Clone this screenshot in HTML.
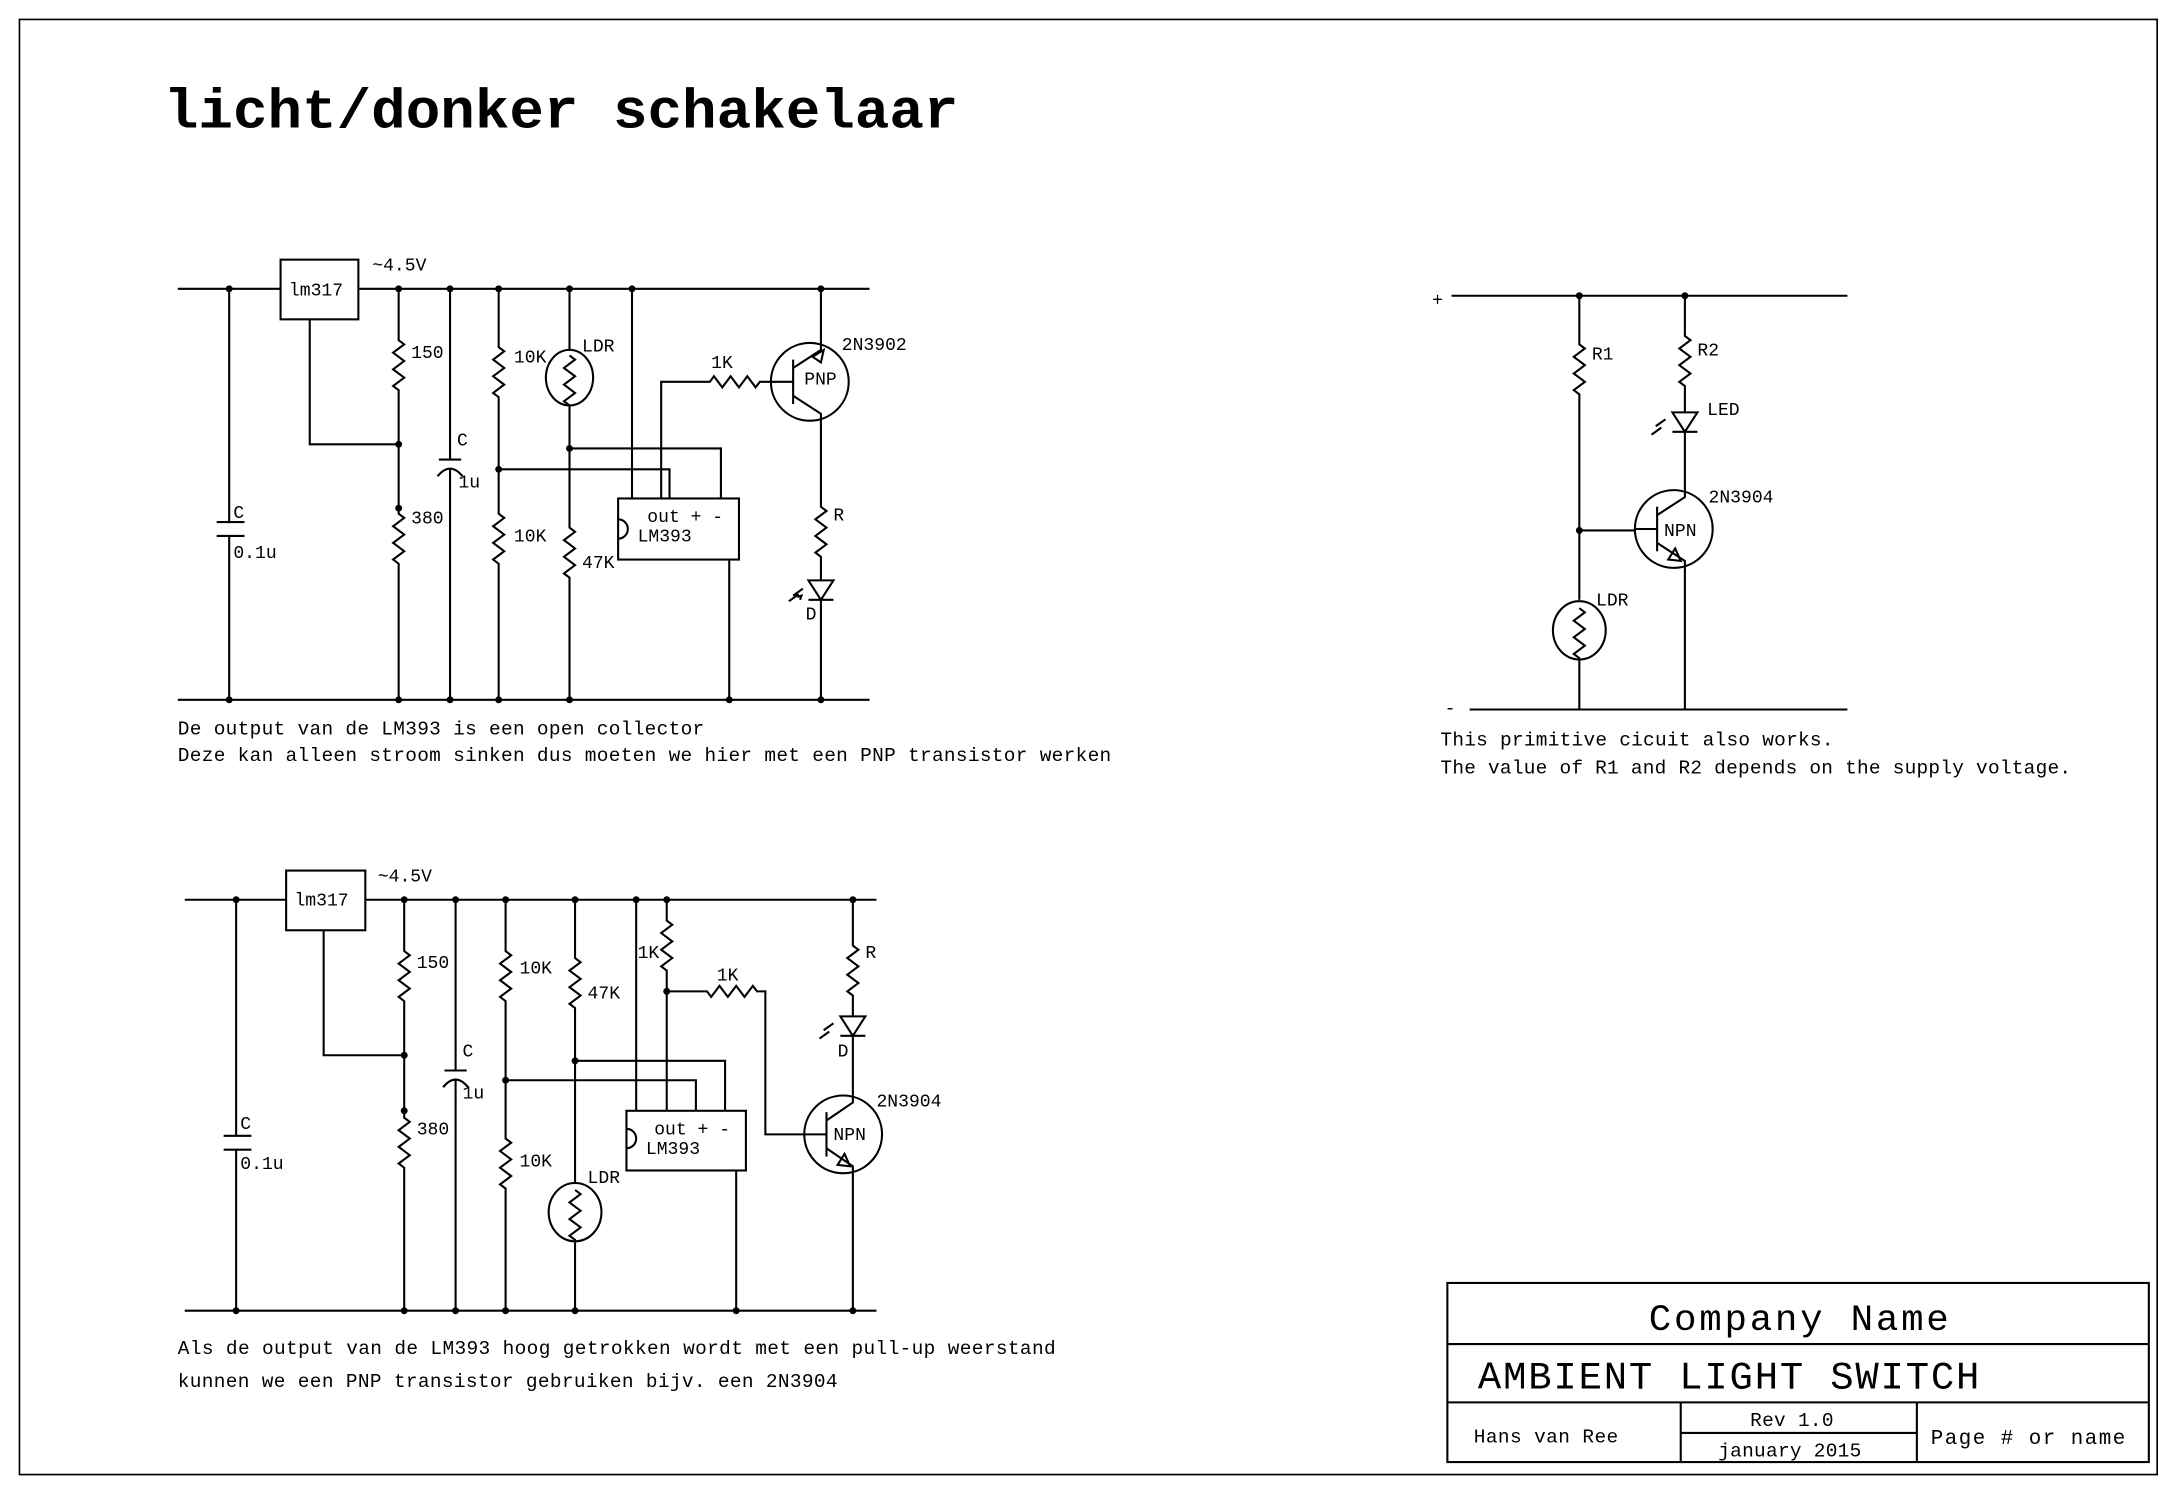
<!DOCTYPE html>
<html><head><meta charset="utf-8"><style>
html,body{margin:0;padding:0;background:#fff}
svg{display:block}
text{font-family:"Liberation Mono",monospace;fill:#000}
</style></head><body>
<svg width="2178" height="1494" viewBox="0 0 1568 1076" preserveAspectRatio="none" xmlns="http://www.w3.org/2000/svg">
<g fill="none" stroke="#000" stroke-width="1.5">
<rect x="14" y="14" width="1539" height="1048" stroke-width="1.2"/>

<!-- TOP CIRCUIT -->
<path d="M128 208H202M258 208H626M128 504H626"/>
<rect x="202" y="187" width="56" height="43"/>
<path d="M165 208V376M156 376H176M156 386H176M165 386V504"/>
<path d="M223 230V320H287"/>
<path d="M287 208V245l4 3l-8 6l8 6l-8 6l8 6l-8 6l4 3V370l4 3l-8 6l8 6l-8 6l8 6l-8 6l4 3V504"/>
<path d="M324 208V331M316 331H332M315 343Q324 332 333 343M324 337V504"/>
<path d="M359 208V250l4 3l-8 6l8 6l-8 6l8 6l-8 6l4 3V370l4 3l-8 6l8 6l-8 6l8 6l-8 6l4 3V504"/>
<path d="M359 338H482V359"/>
<path d="M410 208V252"/>
<ellipse cx="410" cy="272" rx="17" ry="20"/>
<path d="M410 256l4 3l-8 6l8 6l-8 6l8 6l-8 6l4 3V380l4 3l-8 6l8 6l-8 6l8 6l-8 6l4 3V504"/>
<path d="M410 323H519V359M455 208V359"/>
<rect x="445" y="359" width="87" height="44"/>
<path d="M445 374A7 7 0 0 1 445 388"/>
<path d="M476 359V275H511l3 -4l6 8l6 -8l6 8l6 -8l6 8l3 -4H555"/>
<path d="M525 403V504"/>
<circle cx="583" cy="275" r="28"/>
<path d="M571 259V291M555 275H571M591 208V252L571 265M571 285L591 298V365l4 3l-8 6l8 6l-8 6l8 6l-8 6l4 3V418"/>
<path d="M585 257l8 -5l-2 9z"/>
<path d="M582 418H600L591 432ZM582 432H600M591 432V504"/>
<path d="M578 424l-7 5M574 430l3 -1l-1 3M575 428l-7 5"/>

<!-- RIGHT CIRCUIT -->
<path d="M1045 213H1330M1058 511H1330"/>
<path d="M1137 213V248l4 3l-8 6l8 6l-8 6l8 6l-8 6l4 3V432"/>
<ellipse cx="1137" cy="454" rx="19" ry="21"/>
<path d="M1137 438l4 3l-8 6l8 6l-8 6l8 6l-8 6l4 3V511"/>
<path d="M1137 382H1177"/>
<path d="M1213 213V242l4 3l-8 6l8 6l-8 6l8 6l-8 6l4 3V297"/>
<path d="M1204 297H1222L1213 311ZM1204 311H1222M1213 311V353"/>
<path d="M1199 302l-7 5M1196 308l-7 5"/>
<circle cx="1205" cy="381" r="28"/>
<path d="M1193 365V397M1177 381H1193M1193 371L1213 358V353M1193 391L1213 404V511"/>
<path d="M1201 403L1206 395L1210 404Z"/>

<!-- BOTTOM CIRCUIT -->
<path d="M133 648H206M263 648H631M133 944H631"/>
<rect x="206" y="627" width="57" height="43"/>
<path d="M170 648V818M161 818H181M161 828H181M170 828V944"/>
<path d="M233 670V760H291"/>
<path d="M291 648V685l4 3l-8 6l8 6l-8 6l8 6l-8 6l4 3V805l4 3l-8 6l8 6l-8 6l8 6l-8 6l4 3V944"/>
<path d="M328 648V771M320 771H336M319 783Q328 772 337 783M328 777V944"/>
<path d="M364 648V685l4 3l-8 6l8 6l-8 6l8 6l-8 6l4 3V820l4 3l-8 6l8 6l-8 6l8 6l-8 6l4 3V944"/>
<path d="M364 778H501V800"/>
<path d="M414 648V690l4 3l-8 6l8 6l-8 6l8 6l-8 6l4 3V852"/>
<ellipse cx="414" cy="873" rx="19" ry="21"/>
<path d="M414 857l4 3l-8 6l8 6l-8 6l8 6l-8 6l4 3V944"/>
<path d="M414 764H522V800M458 648V800"/>
<path d="M480 648V663l4 3l-8 6l8 6l-8 6l8 6l-8 6l4 3V800"/>
<path d="M480 714H509l3 4l6 -8l6 8l6 -8l6 8l6 -8l3 4H551V817H579"/>
<rect x="451" y="800" width="86" height="43"/>
<path d="M451 813A7 7 0 0 1 451 827"/>
<path d="M530 843V944"/>
<path d="M614 648V681l4 3l-8 6l8 6l-8 6l8 6l-8 6l4 3V732"/>
<path d="M605 732H623L614 746ZM605 746H623M614 746V790"/>
<path d="M600 737l-7 5M597 743l-7 5"/>
<circle cx="607" cy="817" r="28"/>
<path d="M595 801V833M579 817H595M595 807L614 794V790M595 827L614 840V944"/>
<path d="M603 839L608 831L612 840Z"/>

<!-- title block -->
<rect x="1042" y="924" width="505" height="129"/>
<path d="M1042 968H1547M1042 1010H1547M1210 1010V1053M1380 1010V1053M1210 1032H1380"/>
</g>

<g fill="#000">
<circle cx="165" cy="208" r="2.5"/><circle cx="287" cy="208" r="2.5"/><circle cx="324" cy="208" r="2.5"/><circle cx="359" cy="208" r="2.5"/><circle cx="410" cy="208" r="2.5"/><circle cx="455" cy="208" r="2.5"/><circle cx="591" cy="208" r="2.5"/>
<circle cx="165" cy="504" r="2.5"/><circle cx="287" cy="504" r="2.5"/><circle cx="324" cy="504" r="2.5"/><circle cx="359" cy="504" r="2.5"/><circle cx="410" cy="504" r="2.5"/><circle cx="525" cy="504" r="2.5"/><circle cx="591" cy="504" r="2.5"/>
<circle cx="287" cy="320" r="2.5"/><circle cx="287" cy="366" r="2.5"/><circle cx="359" cy="338" r="2.5"/><circle cx="410" cy="323" r="2.5"/>
<circle cx="1137" cy="213" r="2.5"/><circle cx="1213" cy="213" r="2.5"/><circle cx="1137" cy="382" r="2.5"/>
<circle cx="170" cy="648" r="2.5"/><circle cx="291" cy="648" r="2.5"/><circle cx="328" cy="648" r="2.5"/><circle cx="364" cy="648" r="2.5"/><circle cx="414" cy="648" r="2.5"/><circle cx="458" cy="648" r="2.5"/><circle cx="480" cy="648" r="2.5"/><circle cx="614" cy="648" r="2.5"/>
<circle cx="170" cy="944" r="2.5"/><circle cx="291" cy="944" r="2.5"/><circle cx="328" cy="944" r="2.5"/><circle cx="364" cy="944" r="2.5"/><circle cx="414" cy="944" r="2.5"/><circle cx="530" cy="944" r="2.5"/><circle cx="614" cy="944" r="2.5"/>
<circle cx="291" cy="760" r="2.5"/><circle cx="291" cy="800" r="2.5"/><circle cx="364" cy="778" r="2.5"/><circle cx="414" cy="764" r="2.5"/><circle cx="480" cy="714" r="2.5"/>
</g>

<text x="118" y="92" font-size="40" font-weight="bold" textLength="572" lengthAdjust="spacingAndGlyphs">licht/donker schakelaar</text>

<g font-size="13">
<text x="208" y="213">lm317</text>
<text x="268" y="195">~4.5V</text>
<text x="168" y="373">C</text><text x="168" y="402">0.1u</text>
<text x="296" y="258">150</text><text x="296" y="377">380</text>
<text x="329" y="321">C</text><text x="330" y="351">1u</text>
<text x="370" y="261">10K</text><text x="370" y="390">10K</text>
<text x="419" y="253">LDR</text><text x="419" y="409">47K</text>
<text x="466" y="376">out + -</text><text x="459" y="390">LM393</text>
<text x="512" y="265">1K</text>
<text x="606" y="252">2N3902</text><text x="579" y="277">PNP</text>
<text x="600" y="375">R</text><text x="580" y="446">D</text>

<text x="1031" y="220">+</text><text x="1040" y="514">-</text>
<text x="1146" y="259">R1</text><text x="1222" y="256">R2</text>
<text x="1229" y="299">LED</text><text x="1230" y="362">2N3904</text>
<text x="1198" y="386">NPN</text><text x="1149" y="436">LDR</text>

<text x="212" y="652">lm317</text>
<text x="272" y="635">~4.5V</text>
<text x="173" y="813">C</text><text x="173" y="842">0.1u</text>
<text x="300" y="697">150</text><text x="300" y="817">380</text>
<text x="333" y="761">C</text><text x="333" y="791">1u</text>
<text x="374" y="701">10K</text><text x="374" y="840">10K</text>
<text x="423" y="719">47K</text><text x="423" y="852">LDR</text>
<text x="459" y="690">1K</text><text x="516" y="706">1K</text>
<text x="471" y="817">out + -</text><text x="465" y="831">LM393</text>
<text x="623" y="690">R</text><text x="603" y="761">D</text>
<text x="631" y="797">2N3904</text><text x="600" y="821">NPN</text>
</g>

<g font-size="14">
<text x="128" y="529" textLength="379" lengthAdjust="spacing">De output van de LM393 is een open collector</text>
<text x="128" y="548" textLength="672" lengthAdjust="spacing">Deze kan alleen stroom sinken dus moeten we hier met een PNP transistor werken</text>
<text x="1037" y="537" textLength="283" lengthAdjust="spacing">This primitive cicuit also works.</text>
<text x="1037" y="557" textLength="454" lengthAdjust="spacing">The value of R1 and R2 depends on the supply voltage.</text>
<text x="128" y="975" textLength="632" lengthAdjust="spacing">Als de output van de LM393 hoog getrokken wordt met een pull-up weerstand</text>
<text x="128" y="999" textLength="475" lengthAdjust="spacing">kunnen we een PNP transistor gebruiken bijv. een 2N3904</text>
<text x="1061" y="1039" textLength="104" lengthAdjust="spacing">Hans van Ree</text>
<text x="1260" y="1027" textLength="60" lengthAdjust="spacing">Rev 1.0</text>
<text x="1237" y="1049" textLength="103" lengthAdjust="spacing">january 2015</text>
<text x="1390" y="1040" font-size="15" textLength="140" lengthAdjust="spacing">Page # or name</text>
</g>
<text x="1187" y="958" font-family="Liberation Sans,sans-serif" font-size="27" textLength="216" lengthAdjust="spacing">Company Name</text>
<text x="1064" y="1000" font-size="28" textLength="361" lengthAdjust="spacing">AMBIENT LIGHT SWITCH</text>
</svg>
</body></html>
